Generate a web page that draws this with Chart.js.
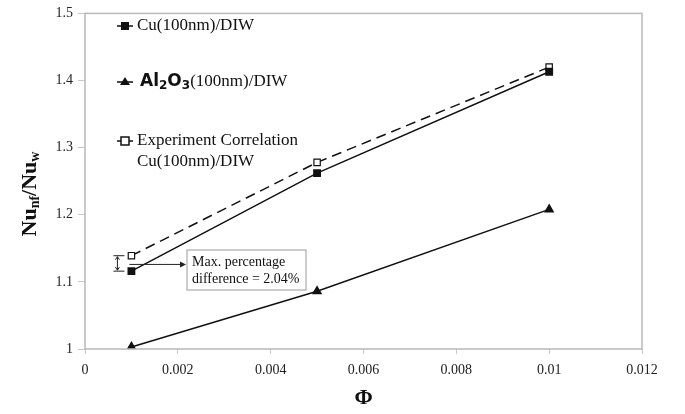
<!DOCTYPE html>
<html>
<head>
<meta charset="utf-8">
<script src="https://cdn.jsdelivr.net/npm/chart.js@4"></script>
<style>
  html, body { margin: 0; padding: 0; background: #fff; }
  canvas { display: block; }
</style>
</head>
<body>
<canvas id="chart" width="685" height="414"></canvas>
<script>
// volume fraction and Nu ratio values
const phi = [0.001, 0.005, 0.01];
const cuDiw = [1.116, 1.262, 1.413];
const al2o3Diw = [1.003, 1.086, 1.208];
const expCorr = [1.139, 1.278, 1.420];

const xTicks = [0, 0.002, 0.004, 0.006, 0.008, 0.01, 0.012];
const yTicks = [1, 1.1, 1.2, 1.3, 1.4, 1.5];

const SERIF = "'Liberation Serif', 'DejaVu Serif', serif";
const pts = (ys) => phi.map((x, i) => ({ x, y: ys[i] }));

// frame, legend, axis titles and the 2.04% note
const extras = {
  id: "extras",
  afterDraw(chart) {
    const { ctx, chartArea: a, scales: { x, y } } = chart;
    ctx.save();

    ctx.strokeStyle = "#b8b8b8";
    ctx.lineWidth = 1.5;
    ctx.strokeRect(a.left, a.top, a.right - a.left, a.bottom - a.top);

    // legend
    const lx = 117, tx = 137;
    ctx.fillStyle = "#111";
    ctx.strokeStyle = "#111";
    ctx.lineWidth = 1.5;
    ctx.textBaseline = "middle";
    ctx.font = "17px " + SERIF;

    const seg = (yy) => {
      ctx.beginPath(); ctx.moveTo(lx, yy); ctx.lineTo(lx + 16, yy); ctx.stroke();
    };
    seg(26);
    ctx.fillRect(lx + 4, 22, 8, 8);
    ctx.fillText("Cu(100nm)/DIW", tx, 26);

    seg(82);
    ctx.beginPath(); ctx.moveTo(lx + 8, 77); ctx.lineTo(lx + 13, 85); ctx.lineTo(lx + 3, 85); ctx.closePath(); ctx.fill();
    let cx = tx + 3;
    const part = (s, dy, f) => { ctx.font = f; ctx.fillText(s, cx, 82 + dy); cx += ctx.measureText(s).width; };
    part("Al", 0, "bold 17px 'DejaVu Sans', sans-serif");
    part("2", 4, "bold 12px 'DejaVu Sans', sans-serif");
    part("O", 0, "bold 17px 'DejaVu Sans', sans-serif");
    part("3", 4, "bold 12px 'DejaVu Sans', sans-serif");
    part("(100nm)/DIW", 0, "17px " + SERIF);

    seg(141);
    ctx.fillStyle = "#fff";
    ctx.fillRect(lx + 4, 137, 8, 8);
    ctx.strokeRect(lx + 4, 137, 8, 8);
    ctx.fillStyle = "#111";
    ctx.font = "17px " + SERIF;
    ctx.fillText("Experiment Correlation", tx, 141);
    ctx.fillText("Cu(100nm)/DIW", tx, 162);

    // difference bracket at the first point
    const px = x.getPixelForValue(phi[0]);
    const yTop = y.getPixelForValue(expCorr[0]);
    const yBot = y.getPixelForValue(cuDiw[0]);
    const bx = px - 11;
    ctx.lineWidth = 1;
    ctx.strokeStyle = "#222";
    ctx.beginPath();
    ctx.moveTo(bx - 7, yTop); ctx.lineTo(bx + 4, yTop);
    ctx.moveTo(bx - 7, yBot); ctx.lineTo(bx + 4, yBot);
    ctx.moveTo(bx - 3, yTop + 1); ctx.lineTo(bx - 3, yBot - 1);
    ctx.stroke();
    ctx.beginPath();
    ctx.moveTo(bx - 5, yTop + 4); ctx.lineTo(bx - 3, yTop + 1); ctx.lineTo(bx - 1, yTop + 4);
    ctx.moveTo(bx - 5, yBot - 4); ctx.lineTo(bx - 3, yBot - 1); ctx.lineTo(bx - 1, yBot - 4);
    ctx.stroke();

    // note box with arrow
    const boxX = 187, boxY = 250, boxW = 119, boxH = 40;
    const ay = (yTop + yBot) / 2 + 1;
    ctx.beginPath(); ctx.moveTo(px - 2, ay); ctx.lineTo(boxX - 5, ay); ctx.stroke();
    ctx.beginPath();
    ctx.moveTo(boxX - 1, ay); ctx.lineTo(boxX - 7, ay - 3); ctx.lineTo(boxX - 7, ay + 3); ctx.closePath();
    ctx.fillStyle = "#222"; ctx.fill();
    ctx.fillStyle = "#fff";
    ctx.fillRect(boxX, boxY, boxW, boxH);
    ctx.strokeStyle = "#999";
    ctx.strokeRect(boxX, boxY, boxW, boxH);
    ctx.fillStyle = "#111";
    ctx.font = "14px " + SERIF;
    ctx.fillText("Max. percentage", boxX + 5, boxY + 12);
    ctx.fillText("difference = 2.04%", boxX + 5, boxY + 29);

    // axis titles
    ctx.textAlign = "center";
    ctx.font = "bold 22px " + SERIF;
    ctx.fillText("\u03a6", (a.left + a.right) / 2, 398);

    ctx.translate(30, 194);
    ctx.rotate(-Math.PI / 2);
    ctx.textAlign = "left";
    const runs = [["Nu", 0, 22], ["nf", 5, 14], ["/Nu", 0, 22], ["w", 5, 14]];
    let w = 0;
    runs.forEach(([s, , sz]) => { ctx.font = `bold ${sz}px ${SERIF}`; w += ctx.measureText(s).width; });
    let rx = -w / 2;
    runs.forEach(([s, dy, sz]) => {
      ctx.font = `bold ${sz}px ${SERIF}`;
      ctx.fillText(s, rx, dy);
      rx += ctx.measureText(s).width;
    });
    ctx.restore();
  },
};

new Chart(document.getElementById("chart"), {
  type: "line",
  data: {
    datasets: [
      {
        label: "Cu(100nm)/DIW",
        data: pts(cuDiw),
        borderColor: "#111", backgroundColor: "#111",
        borderWidth: 1.5, pointStyle: "rect", pointRadius: 4.5,
      },
      {
        label: "Al2O3(100nm)/DIW",
        data: pts(al2o3Diw),
        borderColor: "#111", backgroundColor: "#111",
        borderWidth: 1.5, pointStyle: "triangle", pointRadius: 4.5,
      },
      {
        label: "Experiment Correlation Cu(100nm)/DIW",
        data: pts(expCorr),
        borderColor: "#111", backgroundColor: "#fff",
        borderWidth: 1.5, borderDash: [10, 6],
        pointStyle: "rect", pointRadius: 4.5, pointBorderWidth: 1.2,
      },
    ],
  },
  options: {
    responsive: false,
    animation: false,
    layout: { padding: { top: 7, right: 43, left: 0, bottom: 0 } },
    plugins: { legend: { display: false }, tooltip: { enabled: false } },
    scales: {
      x: {
        type: "linear", min: 0, max: 0.012,
        afterBuildTicks: (s) => { s.ticks = xTicks.map((v) => ({ value: v })); },
        afterFit: (s) => { s.height = 65; },
        border: { display: false },
        grid: { drawOnChartArea: false, tickLength: 5, color: "#c8c8c8" },
        ticks: {
          color: "#222", padding: 8,
          font: { family: SERIF, size: 14 },
          callback: (v) => String(+v.toFixed(3)),
        },
      },
      y: {
        type: "linear", min: 1, max: 1.5,
        afterBuildTicks: (s) => { s.ticks = yTicks.map((v) => ({ value: v })); },
        afterFit: (s) => { s.width = 85; },
        border: { display: false },
        grid: { drawOnChartArea: false, tickLength: 7, color: "#c8c8c8" },
        ticks: {
          color: "#222", padding: 5,
          font: { family: SERIF, size: 14 },
          callback: (v) => String(+v.toFixed(1)),
        },
      },
    },
  },
  plugins: [extras],
});
</script>
</body>
</html>
